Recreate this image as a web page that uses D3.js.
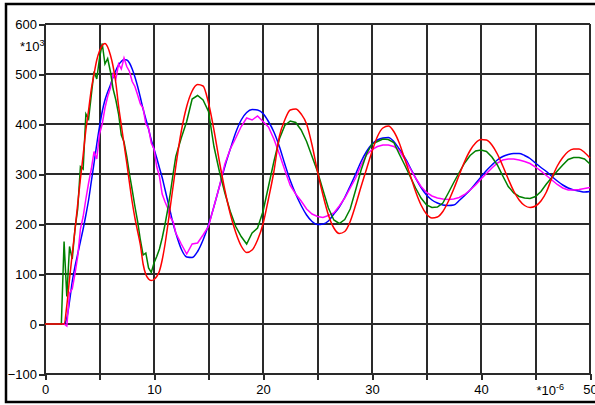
<!DOCTYPE html>
<meta charset="utf-8">
<script src="https://d3js.org/d3.v7.min.js"></script>
<style>
  body { margin: 0; background: #fff; }
  text { font-family: "Liberation Sans", Arial, sans-serif; }
</style>
<div id="chart"></div>
<script>

// sample times (*10^-6): fine step up to 12, then 0.5
var time = d3.range(0, 12, 0.25).concat(d3.range(12, 50.001, 0.5));

var red = [0, 0, 0, 0, 0, 0, 0, 0, 37, 90, 140, 188, 240, 290, 338, 388, 428, 470, 500, 528,
  546, 557, 561, 554, 538, 515, 482, 436, 398, 360, 322, 282, 244, 212, 185, 158, 120, 99, 90, 87,
  89, 95, 106, 128, 158, 195, 235, 275, 315,
  385, 435, 466, 479, 476, 442, 388, 325, 268, 220, 183, 156, 143, 148, 168, 200, 250, 305, 375, 408,
  428, 430, 420, 400, 358, 305, 258, 218, 192, 181, 185, 205, 238, 275, 310, 345, 375, 392, 396, 385,
  362, 330, 298, 265, 238, 220, 212, 214, 225, 245, 270, 298, 325, 347, 362, 369, 368, 358, 340, 316,
  290, 266, 248, 237, 233, 236, 246, 264, 292, 316, 333, 345, 350, 350, 343, 332];

var green = [0, 0, 0, 0, 0, 0, 0, 165, 55, 155, 130, 190, 230, 315, 310, 420, 410, 458, 505, 490,
  532, 561, 520, 531, 505, 470, 448, 420, 378, 364, 335, 300, 268, 235, 205, 168, 138, 142, 112, 103,
  122, 135, 150, 172, 198, 228, 262, 300, 335,
  372, 405, 450, 457, 448, 425, 355, 305, 262, 225, 195, 175, 160, 182, 192, 225, 275, 325, 370, 397,
  406, 403, 388, 365, 335, 305, 268, 232, 208, 201, 209, 230, 268, 308, 340, 360, 365, 370, 369, 363,
  340, 318, 295, 272, 252, 238, 233, 234, 242, 262, 283, 303, 322, 337, 346, 348, 345, 334, 318, 296,
  275, 262, 255, 252, 251, 255, 265, 280, 293, 306, 318, 329, 333, 333, 330, 320];

var blue = [0, 0, 0, 0, 0, 0, 0, 0, 12, 45, 85, 115, 140, 165, 190, 218, 248, 285, 322, 360,
  395, 425, 448, 464, 478, 494, 507, 518, 525, 529, 528, 522, 510, 494, 475, 453, 430, 410, 390, 368,
  350, 332, 312, 293, 270, 247, 224, 201, 182,
  150, 134, 133, 145, 168, 198, 235, 275, 315, 350, 383, 408, 423, 429, 428, 421, 405, 384, 355, 320,
  287, 260, 237, 218, 205, 199, 200, 206, 220, 234, 253, 276, 300, 325, 345, 360, 368, 372, 373, 365,
  350, 333, 313, 292, 273, 258, 248, 242, 238, 237, 238, 247, 257, 268, 281, 294, 307, 318, 328, 335,
  339, 341, 341, 337, 331, 322, 313, 305, 295, 286, 278, 272, 268, 266, 264, 265];

var magenta = [0, 0, 0, 0, 0, 0, 0, 0, -4, 62, 70, 100, 135, 190, 215, 250, 282, 310, 345, 330,
  380, 400, 432, 455, 472, 500, 490, 520, 510, 532, 515, 505, 485, 475, 458, 440, 432, 400, 392, 362,
  350, 315, 295, 260, 245, 232, 213, 205, 182,
  160, 140, 160, 162, 178, 195, 235, 275, 320, 350, 372, 395, 412, 408, 416, 405, 394, 370, 340, 308,
  277, 260, 246, 230, 220, 215, 213, 217, 222, 236, 252, 272, 292, 318, 338, 349, 355, 358, 358, 355,
  347, 330, 311, 292, 275, 263, 256, 252, 250, 249, 250, 253, 259, 268, 278, 290, 301, 312, 322, 328,
  330, 330, 328, 325, 321, 314, 306, 297, 288, 279, 272, 268, 268, 269, 271, 273];

var xTicks = d3.range(0, 51, 5);
var yTicks = d3.range(-100, 601, 100);

var W = 595, H = 405;
var margin = {top: 24, right: 5, bottom: 31, left: 45},
    width = W - margin.left - margin.right,
    height = H - margin.top - margin.bottom;

var svg = d3.select("#chart")
  .append("svg")
    .attr("width", W)
    .attr("height", H);

// outer frame
svg.append("rect")
  .attr("x", 6).attr("y", 4)
  .attr("width", 594).attr("height", 398)
  .attr("fill", "none")
  .attr("stroke", "#000")
  .attr("stroke-width", 2.5);

var g = svg.append("g")
  .attr("transform", "translate(" + margin.left + "," + margin.top + ")");

var x = d3.scaleLinear().domain([0, 50]).range([0, width]);
var y = d3.scaleLinear().domain([-100, 600]).range([height, 0]);

// grid
g.selectAll(".vgrid")
  .data(xTicks)
  .enter().append("line")
    .attr("x1", function(d) { return x(d); })
    .attr("x2", function(d) { return x(d); })
    .attr("y1", 0).attr("y2", height)
    .attr("stroke", "#2a2a2a")
    .attr("stroke-width", 2)
    .attr("shape-rendering", "crispEdges");

g.selectAll(".hgrid")
  .data(yTicks)
  .enter().append("line")
    .attr("y1", function(d) { return y(d); })
    .attr("y2", function(d) { return y(d); })
    .attr("x1", 0).attr("x2", width)
    .attr("stroke", "#2a2a2a")
    .attr("stroke-width", 2)
    .attr("shape-rendering", "crispEdges");

// axes
var yAxis = g.append("g")
  .call(d3.axisLeft(y).tickValues(yTicks).tickSize(6).tickPadding(2));

var xAxis = g.append("g")
  .attr("transform", "translate(0," + height + ")")
  .call(d3.axisBottom(x).tickValues(xTicks).tickSize(6).tickPadding(5)
    .tickFormat(function(d) { return d % 10 === 0 ? d : ""; }));

[xAxis, yAxis].forEach(function(a) {
  a.select(".domain").remove();
  a.selectAll(".tick line").attr("stroke", "#2a2a2a").attr("stroke-width", 2)
    .attr("shape-rendering", "crispEdges");
  a.selectAll("text")
    .attr("fill", "#000")
    .style("font-family", "'Liberation Sans', Arial, sans-serif")
    .style("font-size", "13px");
});

// unit labels
var u1 = g.append("text")
  .attr("x", -25).attr("y", y(600) + 27)
  .style("font-size", "13px");
u1.append("tspan").text("*10");
u1.append("tspan").attr("dy", -5).style("font-size", "9px").text("3");

var u2 = g.append("text")
  .attr("x", x(45) + 1).attr("y", height + 21)
  .style("font-size", "13px");
u2.append("tspan").text("*10");
u2.append("tspan").attr("dy", -5).style("font-size", "9px").text("-6");

// series
var series = [
  {values: blue, color: "#0000ff", curve: d3.curveMonotoneX},
  {values: magenta, color: "#ff00ff", curve: d3.curveLinear},
  {values: green, color: "#008000", curve: d3.curveLinear},
  {values: red, color: "#ff0000", curve: d3.curveMonotoneX}
];

series.forEach(function(s) {
  var line = d3.line()
    .x(function(d, i) { return x(time[i]); })
    .y(function(d) { return y(d); })
    .curve(s.curve);
  g.append("path")
    .datum(s.values)
    .attr("fill", "none")
    .attr("stroke", s.color)
    .attr("stroke-width", 1.5)
    .attr("d", line);
});

</script>
